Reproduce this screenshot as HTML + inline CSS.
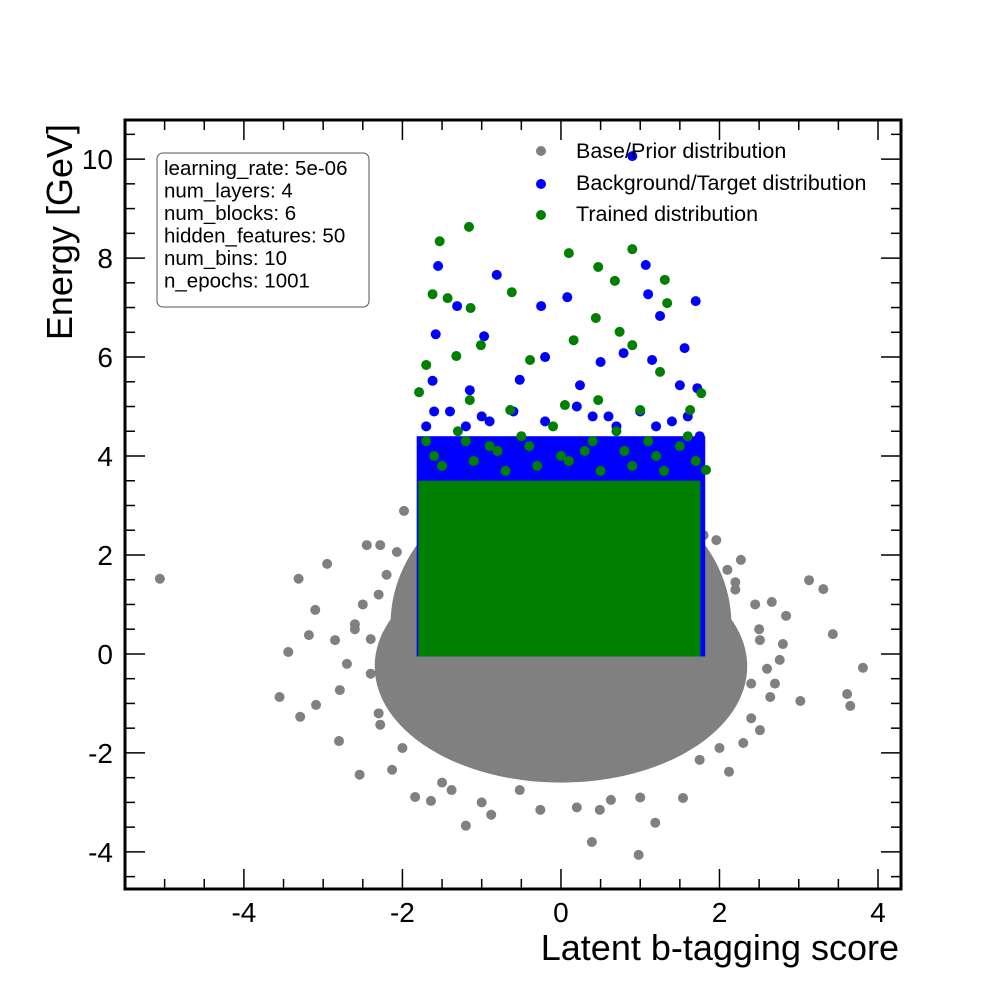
<!DOCTYPE html>
<html><head><meta charset="utf-8"><style>
body{margin:0;background:#fff}
svg text{font-family:"Liberation Sans",sans-serif}
</style></head><body>
<svg id="chart" width="1000" height="1000" xmlns="http://www.w3.org/2000/svg" style="position:absolute;left:0;top:0">
<rect width="1000" height="1000" fill="#fff"/>
<g id="marks"></g>
<g id="axes"></g>
</svg>
<script>
const grayX=[-5.06,-3.55,-3.29,-3.44,-3.31,-3.09,-2.80,-2.45,-2.28,-2.54,-1.84,-1.64,-1.20,-0.88,0.39,0.98,1.19,1.54,2.12,2.30,2.64,3.13,3.31,3.43,3.81,3.61,3.65,3.02,2.84,2.66,2.27,2.20,1.96,1.80,-1.98,-2.07,-2.95,-3.10,-3.18,-2.85,-2.79,-2.28,-2.13,-1.38,-0.52,-0.26,0.49,0.63,1.75,2.51,2.76,2.51,-2.6,-2.4,2.5,2.4,-2.3,2.2,-2.0,2.0,-2.5,-2.7,-2.3,2.6,2.8,2.4,-2.2,2.1,-1.0,0.2,1.0,-1.5,-2.4,2.45,-2.6,2.7];
const grayY=[1.52,-0.87,-1.27,0.04,1.52,-1.03,-1.76,2.2,2.2,-2.44,-2.89,-2.97,-3.47,-3.25,-3.80,-4.06,-3.41,-2.91,-2.38,-1.80,-0.87,1.49,1.31,0.40,-0.28,-0.81,-1.05,-0.95,0.77,1.05,1.90,1.45,2.30,2.40,2.89,2.06,1.82,0.89,0.38,0.28,-0.73,-1.43,-2.34,-2.75,-2.75,-3.15,-3.15,-2.95,-2.14,-1.54,-0.12,0.28,0.6,-0.4,0.5,-0.6,1.2,1.3,-1.9,-1.9,1.0,-0.2,-1.2,-0.3,0.2,-1.3,1.6,1.7,-3.0,-3.1,-2.9,-2.6,0.3,1.0,0.5,-0.6];
const blueX=[-1.55,-0.81,-0.25,0.08,0.90,1.07,1.70,1.10,1.25,-1.58,-1.31,1.56,0.50,-0.97,-0.20,0.79,-0.52,-1.15,-1.62,1.72,1.50,0.24,1.15,-1.7,1.75,-1.6,1.6,-0.9,0.7,-1.4,-1.0,-0.6,-0.2,0.2,0.6,1.0,1.4,-1.2,0.4,1.2];
const blueY=[7.84,7.66,7.03,7.21,10.06,7.86,7.13,7.27,6.83,6.46,7.03,6.18,5.9,6.42,6.0,6.08,5.54,5.33,5.52,5.37,5.43,5.43,5.94,4.6,4.4,4.9,4.8,4.7,4.6,4.9,4.8,4.9,4.7,5.0,4.8,4.9,4.7,4.6,4.8,4.6];
const greenX=[-1.53,-1.16,0.90,0.10,0.47,1.31,0.68,-0.62,-1.62,-1.43,-1.14,0.44,1.34,-1.70,-1.79,1.77,-1.01,0.16,0.90,0.74,-1.32,-0.39,0.05,-0.64,1.00,1.25,1.83,0.47,-1.15,1.63,-1.7,-1.3,-0.9,-0.5,-0.1,0.3,0.7,1.1,1.5,1.7,-1.5,-1.1,-0.7,-0.3,0.1,0.5,0.9,1.3,-1.6,-1.2,-0.8,-0.4,0.0,0.4,0.8,1.2,1.6];
const greenY=[8.34,8.63,8.18,8.10,7.82,7.56,7.54,7.31,7.27,7.19,6.99,6.79,7.09,5.84,5.29,5.27,6.24,6.34,6.24,6.51,6.02,5.94,5.03,4.93,4.93,5.70,3.72,5.13,5.13,4.93,4.3,4.5,4.2,4.4,4.6,4.1,4.5,4.3,4.2,3.9,3.8,3.9,3.7,3.8,3.9,3.7,3.8,3.7,4.0,4.3,4.1,4.2,4.0,4.3,4.1,4.0,4.4];
const xTicks=[-4,-2,0,2,4];
const yTicks=[-4,-2,0,2,4,6,8,10];
const X0=125,X1=901,Y0=889,Y1=120,xmin=-5.5,xmax=4.29,ymin=-4.75,ymax=10.79;
const sx=v=>X0+(v-xmin)/(xmax-xmin)*(X1-X0);
const sy=v=>Y0-(v-ymin)/(ymax-ymin)*(Y0-Y1);
const NS="http://www.w3.org/2000/svg";
const marks=document.getElementById('marks'),axes=document.getElementById('axes');
function mk(tag,attrs,parent){const e=document.createElementNS(NS,tag);for(const k in attrs)e.setAttribute(k,attrs[k]);parent.appendChild(e);return e;}
let e=mk('ellipse',{cx:sx(0),cy:sy(-0.25),rx:sx(2.35)-sx(0),ry:sy(-2.6)-sy(-0.25),fill:'#808080'},marks);


e=mk('ellipse',{cx:sx(0),cy:sy(0.6),rx:sx(2.15)-sx(0),ry:sy(-0.5)-sy(2.5),fill:'#808080'},marks);


grayX.forEach((v,i)=>{const c=mk('circle',{cx:sx(v),cy:sy(grayY[i]),r:5,fill:'#808080'},marks);

});
e=mk('rect',{x:sx(-1.82),y:sy(4.4),width:sx(1.82)-sx(-1.82),height:sy(-0.05)-sy(4.4),fill:'#0000ff'},marks);


blueX.forEach((v,i)=>{const c=mk('circle',{cx:sx(v),cy:sy(blueY[i]),r:5,fill:'#0000ff'},marks);

});
e=mk('rect',{x:sx(-1.8),y:sy(3.5),width:sx(1.76)-sx(-1.8),height:sy(-0.05)-sy(3.5),fill:'#008000'},marks);


greenX.forEach((v,i)=>{const c=mk('circle',{cx:sx(v),cy:sy(greenY[i]),r:5,fill:'#008000'},marks);

});
e=mk('rect',{x:X0,y:Y1,width:X1-X0,height:Y0-Y1,fill:'none',stroke:'#000','stroke-width':3},axes);


for(let v=-5.5;v<=4.29;v+=0.5){const major=Math.abs(v-Math.round(v/2)*2)<1e-6;const L=major?20:10;const x=sx(v);
mk('line',{x1:x,x2:x,y1:Y0,y2:Y0-L,stroke:'#000','stroke-width':1.5},axes);
mk('line',{x1:x,x2:x,y1:Y1,y2:Y1+L,stroke:'#000','stroke-width':1.5},axes);}
for(let v=-4.5;v<=10.79;v+=0.5){const major=Math.abs(v-Math.round(v/2)*2)<1e-6;const L=major?20:10;const y=sy(v);
mk('line',{x1:X0,x2:X0+L,y1:y,y2:y,stroke:'#000','stroke-width':1.5},axes);
mk('line',{x1:X1,x2:X1-L,y1:y,y2:y,stroke:'#000','stroke-width':1.5},axes);}
xTicks.forEach(v=>{const t=mk('text',{x:sx(v),y:922,'font-size':28,'text-anchor':'middle'},axes);t.textContent=v;

});
yTicks.forEach(v=>{const t=mk('text',{x:113,y:sy(v)+10,'font-size':28,'text-anchor':'end'},axes);t.textContent=v;

});
</script>
<svg style="position:absolute;left:0;top:0" width="1000" height="1000" xmlns="http://www.w3.org/2000/svg">
<text x="899" y="960" font-size="36" text-anchor="end" font-family="Liberation Sans">Latent b-tagging score</text>
<text transform="translate(72,124) rotate(-90)" font-size="36" text-anchor="end" font-family="Liberation Sans">Energy [GeV]</text>
<g font-size="21.5" font-family="Liberation Sans">
<circle cx="541" cy="151" r="5" fill="#808080"/><text x="576" y="158">Base/Prior distribution</text>
<circle cx="541" cy="184" r="5" fill="#0000ff"/><text x="576" y="190">Background/Target distribution</text>
<circle cx="541" cy="215" r="5" fill="#008000"/><text x="576" y="221">Trained distribution</text>
</g>
<g font-size="20.5" font-family="Liberation Sans">
<rect x="157" y="153" width="212" height="154" rx="6" fill="#fff" stroke="#555" stroke-width="1"/>
<text x="164" y="175">learning_rate: 5e-06</text>
<text x="164" y="197.5">num_layers: 4</text>
<text x="164" y="220">num_blocks: 6</text>
<text x="164" y="242.5">hidden_features: 50</text>
<text x="164" y="265">num_bins: 10</text>
<text x="164" y="287.5">n_epochs: 1001</text>
</g>
</svg>
</body></html>
